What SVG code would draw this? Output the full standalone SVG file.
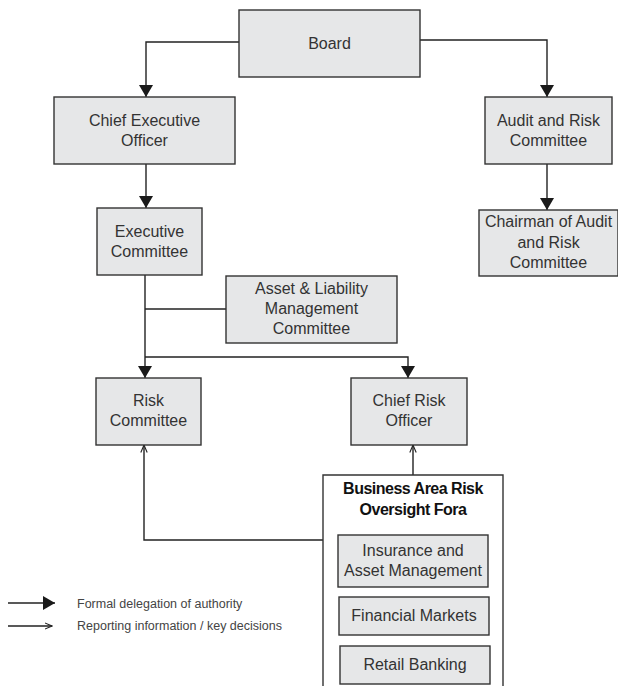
<svg xmlns="http://www.w3.org/2000/svg" width="618" height="686" viewBox="0 0 618 686">
<style>
.box{fill:#e6e7e8;stroke:#333;stroke-width:1.4}
.t{font-family:"Liberation Sans",Arial,sans-serif;font-size:16px;fill:#333;text-anchor:middle}
.h{font-family:"Liberation Sans",Arial,sans-serif;font-size:16px;font-weight:bold;fill:#111;text-anchor:middle;letter-spacing:-0.5px}
.lg{font-family:"Liberation Sans",Arial,sans-serif;font-size:12.5px;fill:#444}
.c{fill:none;stroke:#222;stroke-width:1.4}
.f{marker-end:url(#fa)}
.o{marker-end:url(#oa)}
</style>
<defs>
<marker id="fa" markerUnits="userSpaceOnUse" viewBox="0 0 12 14" markerWidth="12" markerHeight="14" refX="12" refY="7" orient="auto"><path d="M0,0 L12,7 L0,14 Z" fill="#1a1a1a"/></marker>
<marker id="oa" markerUnits="userSpaceOnUse" viewBox="0 0 8 8" markerWidth="8" markerHeight="8" refX="7.5" refY="4" orient="auto"><path d="M0,0.8 L7.5,4 L0,7.2" fill="none" stroke="#222" stroke-width="1.1"/></marker>
</defs>
<g id="connectors">
<path class="c f" d="M239,42 H146 V97"/>
<path class="c f" d="M146,164 V208"/>
<path class="c f" d="M420,40 H547 V97"/>
<path class="c f" d="M547,164 V210"/>
<path class="c f" d="M145,275 V378"/>
<path class="c" d="M145,309 H226"/>
<path class="c f" d="M145,357 H408 V378"/>
<path class="c o" d="M413,475 V445"/>
<path class="c o" d="M323,540 H144 V445"/>
</g>
<g id="board"><rect class="box" x="239" y="10" width="181" height="67"/><text class="t" x="329.5" y="49">Board</text></g>
<g id="ceo"><rect class="box" x="54" y="97" width="181" height="67"/><text class="t" x="144.5" y="126">Chief Executive</text><text class="t" x="144.5" y="146">Officer</text></g>
<g id="audit"><rect class="box" x="485" y="97" width="127" height="67"/><text class="t" x="548.5" y="126">Audit and Risk</text><text class="t" x="548.5" y="146">Committee</text></g>
<g id="chairman"><rect class="box" x="479" y="210" width="139" height="66"/><text class="t" x="548.5" y="227">Chairman of Audit</text><text class="t" x="548.5" y="247.5">and Risk</text><text class="t" x="548.5" y="268">Committee</text></g>
<g id="exec"><rect class="box" x="97" y="208" width="105" height="67"/><text class="t" x="149.5" y="237">Executive</text><text class="t" x="149.5" y="257">Committee</text></g>
<g id="alm"><rect class="box" x="226" y="276" width="171" height="67"/><text class="t" x="311.5" y="294">Asset &amp; Liability</text><text class="t" x="311.5" y="314">Management</text><text class="t" x="311.5" y="334">Committee</text></g>
<g id="risk"><rect class="box" x="96" y="378" width="105" height="67"/><text class="t" x="148.5" y="406">Risk</text><text class="t" x="148.5" y="426">Committee</text></g>
<g id="cro"><rect class="box" x="351" y="378" width="116" height="67"/><text class="t" x="409" y="406">Chief Risk</text><text class="t" x="409" y="426">Officer</text></g>
<g id="baro"><path d="M323,690 V475 H503 V690" fill="#fff" stroke="#333" stroke-width="1.4"/><text class="h" x="413" y="494">Business Area Risk</text><text class="h" x="413" y="515">Oversight Fora</text></g>
<g id="insurance"><rect class="box" x="338" y="535" width="150" height="52"/><text class="t" x="413" y="556">Insurance and</text><text class="t" x="413" y="576">Asset Management</text></g>
<g id="financial"><rect class="box" x="339" y="597" width="150" height="38"/><text class="t" x="414" y="621">Financial Markets</text></g>
<g id="retail"><rect class="box" x="340" y="646" width="150" height="38"/><text class="t" x="415" y="670">Retail Banking</text></g>
<g id="legend">
<path class="c f" d="M8,603 H55"/>
<path class="c o" d="M8,626 H52"/>
<text class="lg" x="77" y="608">Formal delegation of authority</text>
<text class="lg" x="77" y="630">Reporting information / key decisions</text>
</g>
</svg>
